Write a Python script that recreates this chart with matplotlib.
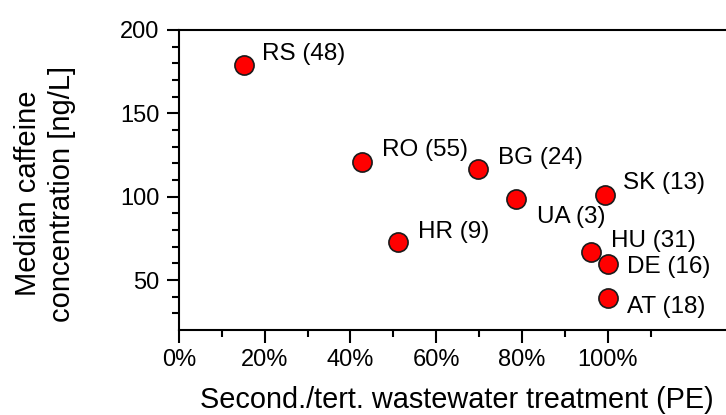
import matplotlib
matplotlib.use('Agg')
import matplotlib.pyplot as plt
from matplotlib.ticker import FixedLocator, FuncFormatter

plt.rcParams['font.family'] = ['Liberation Sans', 'DejaVu Sans']

# data
countries = ['RS', 'RO', 'BG', 'UA', 'HR', 'SK', 'HU', 'DE', 'AT']
n_samples = [48, 55, 24, 3, 9, 13, 31, 16, 18]
treatment_pct = [15.1, 42.6, 69.8, 78.5, 51.1, 99.3, 96.2, 100.0, 100.0]
caffeine = [179, 120.6, 116.4, 98.4, 73, 101, 67, 59.6, 39]

# label offsets in pixels (dx to left edge, dy to baseline, up positive)
label_off = [(18, 5), (20, 6), (20, 5), (21, -24), (20, 4), (18, 6), (20, 5), (19, -9), (19, -15)]

fig = plt.figure(figsize=(7.26, 4.15), dpi=100)
ax = fig.add_axes([179 / 726, 85 / 415, 547 / 726, 300 / 415])

ax.scatter(treatment_pct, caffeine, s=190, color='#ff0000', edgecolor='#1a1a1a',
           linewidth=1.2, zorder=3, clip_on=False)

px = 72 / 100
for c, n, x, y, (dx, dy) in zip(countries, n_samples, treatment_pct, caffeine, label_off):
    ax.annotate(f'{c} ({n})', (x, y), xytext=(dx * px, dy * px), textcoords='offset points',
                ha='left', va='baseline', fontsize=17.5)

ax.set_xlim(0, 127.6)
ax.set_ylim(20, 200)

ax.xaxis.set_major_locator(FixedLocator([0, 20, 40, 60, 80, 100]))
ax.xaxis.set_minor_locator(FixedLocator([10, 30, 50, 70, 90, 110]))
ax.xaxis.set_major_formatter(FuncFormatter(lambda v, p: f'{v:.0f}%'))
ax.yaxis.set_major_locator(FixedLocator([50, 100, 150, 200]))
ax.yaxis.set_minor_locator(FixedLocator([v for v in range(30, 200, 10) if v % 50]))

ax.spines['right'].set_visible(False)
for s in ['left', 'bottom', 'top']:
    ax.spines[s].set_linewidth(1.5)
    ax.spines[s].set_clip_on(False)

ax.tick_params(which='major', direction='out', length=9, width=1.5, labelsize=17)
ax.tick_params(which='minor', direction='out', length=5, width=1.5)
ax.tick_params(axis='x', which='major', pad=5)
ax.tick_params(axis='y', which='major', pad=5)

ax.set_xlabel('Second./tert. wastewater treatment (PE)', fontsize=20.8)
ax.xaxis.set_label_coords(0.508, -0.188)
ax.set_ylabel('Median caffeine\nconcentration [ng/L]', fontsize=21, linespacing=1.3)
ax.yaxis.set_label_coords(-0.188, 0.455)

fig.savefig('out.png', dpi=100)
